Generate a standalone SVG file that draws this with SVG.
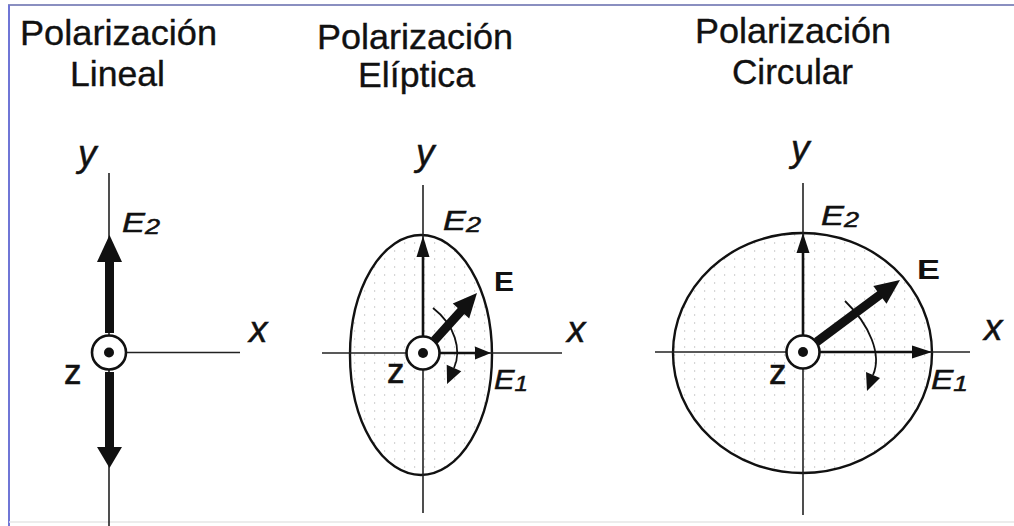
<svg xmlns="http://www.w3.org/2000/svg" width="1014" height="526" viewBox="0 0 1014 526">
<style>
.title{font-family:"Liberation Sans",Arial,sans-serif;font-size:35px;fill:#111;stroke:#111;stroke-width:0.35}
.it{font-family:"Liberation Sans",Arial,sans-serif;font-style:italic;fill:#111;stroke:#111;stroke-width:0.5}
.rg{font-family:"Liberation Sans",Arial,sans-serif;fill:#111;stroke:#111;stroke-width:0.6}
.bd{font-family:"Liberation Sans",Arial,sans-serif;font-weight:bold;fill:#111}
.axis{stroke:#222;stroke-width:1.6;fill:none}
.shaft{stroke:#111;stroke-width:2.6;fill:none}
.thick{stroke:#111;stroke-width:9;fill:none}
.head{fill:#111;stroke:none}
.orig{fill:#fff;stroke:#111;stroke-width:2.6}
.dot{fill:#111}
.env{stroke:#111;stroke-width:2.4;fill:url(#grid)}
.rot{stroke:#111;stroke-width:1.8;fill:none}
</style>
<defs>
<pattern id="grid" patternUnits="userSpaceOnUse" width="10" height="8">
<rect x="4" y="2" width="1.2" height="2" fill="#d6d6d6"/>
</pattern>
</defs>
<rect width="1014" height="526" fill="#fff"/>
<g id="frame">
<line x1="8" y1="5" x2="1014" y2="5" stroke="#8a8fc0" stroke-width="2"/>
<line x1="9" y1="5" x2="9" y2="526" stroke="#6f76d6" stroke-width="2"/>
<line x1="9" y1="522" x2="1014" y2="522" stroke="#e6e6e6" stroke-width="1.5"/>
</g>

<g id="lineal">
<text class="title" x="20" y="45" textLength="197" lengthAdjust="spacingAndGlyphs">Polarización</text>
<text class="title" x="70" y="86" textLength="95" lengthAdjust="spacingAndGlyphs">Lineal</text>
<line class="axis" x1="109" y1="173" x2="109" y2="526"/>
<line class="axis" x1="125" y1="352.5" x2="240" y2="352.5"/>
<line class="thick" stroke-width="10" x1="109.5" y1="333" x2="109.5" y2="260"/>
<polygon class="head" points="97,262 122,262 109.5,235"/>
<line class="thick" stroke-width="10" x1="109.5" y1="372" x2="109.5" y2="449"/>
<polygon class="head" points="97,447 122,447 109.5,468"/>
<circle class="orig" cx="109" cy="352.5" r="17"/>
<circle class="dot" cx="109" cy="352.5" r="5"/>
<text class="it" x="78" y="166" font-size="37">y</text>
<text class="it" x="122" y="232" font-size="28" textLength="38" lengthAdjust="spacingAndGlyphs">E<tspan font-size="22" dy="2">2</tspan></text>
<text class="it" x="249" y="342" font-size="37">x</text>
<text class="rg" x="64" y="384" font-size="35">z</text>
</g>

<g id="eliptica">
<text class="title" x="317" y="49" textLength="196" lengthAdjust="spacingAndGlyphs">Polarización</text>
<text class="title" x="358" y="87" textLength="117" lengthAdjust="spacingAndGlyphs">Elíptica</text>
<ellipse class="env" cx="421" cy="355" rx="71" ry="120"/>
<line class="axis" x1="423" y1="185" x2="423" y2="513"/>
<line class="axis" x1="322" y1="353" x2="562" y2="353"/>
<line class="shaft" x1="423" y1="336" x2="423" y2="255"/>
<polygon class="head" points="416.5,257 429.5,257 423,236"/>
<line class="shaft" x1="440" y1="353" x2="477" y2="353"/>
<polygon class="head" points="475,346.5 475,359.5 491,353"/>
<line class="thick" x1="434.4" y1="340.4" x2="462" y2="310"/>
<polygon class="head" points="469.2,318.4 452.8,303.6 477,293"/>
<path class="rot" d="M433 308 C455 325 462 350 454 368"/>
<polygon class="head" points="461.3,371.2 446.7,364.8 447.1,384"/>
<circle class="orig" cx="423" cy="353" r="16.5"/>
<circle class="dot" cx="423" cy="353" r="5"/>
<text class="it" x="416" y="165" font-size="37">y</text>
<text class="it" x="443" y="230" font-size="28" textLength="38" lengthAdjust="spacingAndGlyphs">E<tspan font-size="22" dy="2">2</tspan></text>
<text class="bd" x="494" y="291" font-size="28" textLength="20" lengthAdjust="spacingAndGlyphs">E</text>
<text class="it" x="567" y="342" font-size="37">x</text>
<text class="rg" x="387" y="383" font-size="35">z</text>
<text class="it" x="494" y="389" font-size="28" textLength="34" lengthAdjust="spacingAndGlyphs">E<tspan font-size="22" dy="2">1</tspan></text>
</g>

<g id="circular">
<text class="title" x="695" y="43" textLength="196" lengthAdjust="spacingAndGlyphs">Polarización</text>
<text class="title" x="732" y="84" textLength="121" lengthAdjust="spacingAndGlyphs">Circular</text>
<ellipse class="env" cx="802.5" cy="353" rx="129.5" ry="120"/>
<line class="axis" x1="803" y1="183" x2="803" y2="515"/>
<line class="axis" x1="655" y1="352" x2="970" y2="352"/>
<line class="shaft" x1="803" y1="335" x2="803" y2="251"/>
<polygon class="head" points="796.5,253 809.5,253 803,233"/>
<line class="shaft" x1="820" y1="352" x2="914" y2="352"/>
<polygon class="head" points="912,345.5 912,358.5 932,352"/>
<line class="thick" x1="816.7" y1="341.9" x2="881" y2="294"/>
<polygon class="head" points="886.5,303.7 873.3,286.1 900,280"/>
<path class="rot" d="M845 301 C870 325 882 355 873 375"/>
<polygon class="head" points="880,378 866,372 867,391"/>
<circle class="orig" cx="803" cy="352" r="16.5"/>
<circle class="dot" cx="803" cy="352" r="5"/>
<text class="it" x="791" y="161" font-size="37">y</text>
<text class="it" x="821" y="225" font-size="28" textLength="38" lengthAdjust="spacingAndGlyphs">E<tspan font-size="22" dy="2">2</tspan></text>
<text class="bd" x="917" y="279" font-size="28" textLength="23" lengthAdjust="spacingAndGlyphs">E</text>
<text class="it" x="984" y="340" font-size="37">x</text>
<text class="rg" x="769" y="384" font-size="35">z</text>
<text class="it" x="931" y="389" font-size="28" textLength="37" lengthAdjust="spacingAndGlyphs">E<tspan font-size="22" dy="2">1</tspan></text>
</g>
</svg>
